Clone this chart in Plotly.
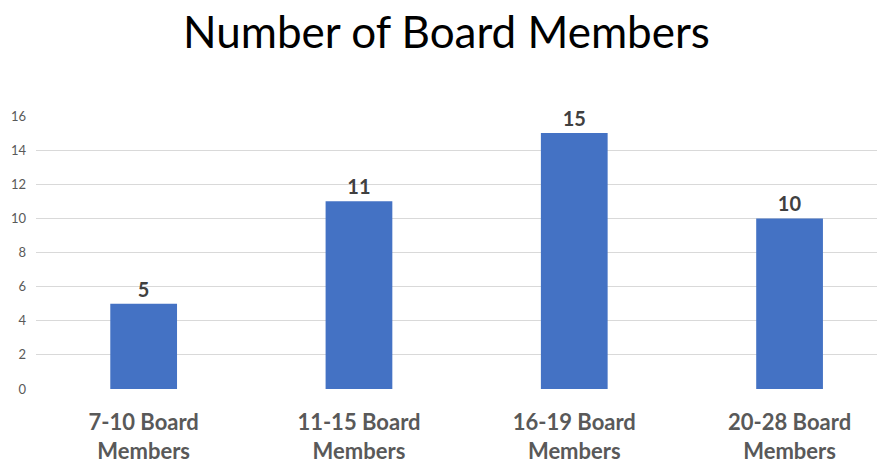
import plotly.graph_objects as go

categories = ["7-10 Board<br>Members", "11-15 Board<br>Members", "16-19 Board<br>Members", "20-28 Board<br>Members"]
values = [5, 11, 15, 10]
y_ticks = [0, 2, 4, 6, 8, 10, 12, 14, 16]

FONT = "Lato, 'Open Sans', sans-serif"

# page body has an 8px default margin; the figure is sized to fit the window
W, H = 877, 456

fig = go.Figure(go.Bar(
    x=list(range(len(categories))), y=values,
    marker=dict(color="#4472C4", line=dict(width=0)),
    width=0.31,
    text=[str(v) for v in values], textposition="outside",
    textfont=dict(family=FONT, size=20, color="#404040", weight="bold"),
    cliponaxis=False,
))

fig.update_layout(
    width=W, height=H,
    margin=dict(l=28, r=5, t=108, b=75, autoexpand=False),
    paper_bgcolor="white", plot_bgcolor="white",
    showlegend=False,
    title=dict(text="Number of Board Members", x=0.5, xanchor="center",
               y=1 - 25 / H, yref="container", yanchor="middle",
               font=dict(family=FONT, size=44, color="#000000")),
    xaxis=dict(range=[-0.5, 3.42], tickmode="array",
               tickvals=list(range(len(categories))), ticktext=categories,
               tickfont=dict(family=FONT, size=22, color="#595959", weight="bold"),
               showgrid=False, zeroline=False, showline=False, ticks="",
               ticklabelstandoff=18, automargin=False),
    yaxis=dict(range=[0, 16], tickvals=y_ticks,
               tickfont=dict(family=FONT, size=13, color="#595959"),
               gridcolor="#D9D9D9", gridwidth=1, zeroline=False, showline=False,
               ticks="", ticklabelstandoff=9, automargin=False),
)
fig.write_html("out.html")
